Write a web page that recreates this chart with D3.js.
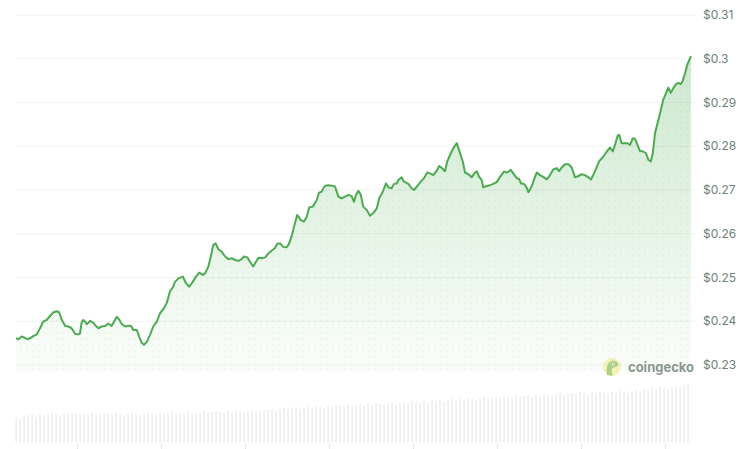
<!DOCTYPE html>
<html>
<head>
<meta charset="utf-8">
<script src="https://cdn.jsdelivr.net/npm/d3@7"></script>
<style>
  body { margin: 0; background: #fff; }
  svg { display: block; font-family: Inter, "Noto Sans", sans-serif; }
</style>
</head>
<body>
<div id="chart"></div>
<script>
// price series, hours since start
var hours = [0,0.6,1.4,2.0,2.8,3.5,4.3,5.2,6.0,6.8,7.7,8.5,9.3,10.2,10.8,11.4,12.3,13.1,13.9,14.8,15.6,16.0,16.4,16.8,17.3,17.7,18.5,19.3,20.0,20.6,21.4,22.3,23.1,23.9,24.5,25.2,25.8,26.4,27.3,28.1,28.8,29.3,30.2,30.8,31.4,32.0,32.7,33.5,34.3,35.2,36.0,37.0,37.7,38.5,39.3,
  39.75,40.6,41.7,42.5,43.3,44.2,45.0,45.8,46.7,47.3,48.1,48.7,49.3,49.9,50.6,51.4,52.3,53.1,53.9,54.8,55.6,56.4,57.0,57.8,58.5,59.3,60.0,60.6,61.4,62.3,63.1,63.9,64.8,65.3,66.0,66.8,67.7,68.3,69.0,69.5,70.3,71.2,72.0,72.7,73.3,74.2,75.2,75.75,76.4,77.25,78.1,78.9,79.75,80.6,
  81.4,82.25,83.1,83.9,84.5,85.0,85.6,86.2,86.8,87.7,88.5,89.3,90.2,90.8,91.7,92.5,93.1,93.9,94.5,95.2,95.6,96.4,97.0,98.1,98.9,99.5,100.3,101.2,102.0,102.8,103.5,104.3,105.2,105.8,106.4,107.25,107.8,108.7,109.3,110.2,110.8,111.7,112.25,113.1,113.9,114.5,115.2,115.8,116.4,116.8,117.7,118.5,
  119.3,120.2,121.0,122.0,122.8,123.7,124.3,125.2,125.8,126.25,127.0,127.7,128.1,128.9,129.75,130.2,131.0,131.8,132.7,133.5,134.3,135.2,135.75,136.4,137.25,138.1,138.9,139.75,140.6,141.4,142.25,143.1,143.75,144.5,145.2,145.8,146.8,147.7,148.5,149.2,149.75,150.4,150.8,151.4,152.25,152.9,153.5,154.2,154.75,155.3,156.0,156.8,157.5,158.1,158.7,159.2,
  159.75,160.6,161.0,161.8,162.5,163.1,163.7,164.3,165.0,165.6,166.2,166.7,167.25,167.8,168.3,168.75];
var prices = [0.2361,0.2359,0.2365,0.2363,0.2359,0.2361,0.2366,0.2370,0.2384,0.2399,0.2403,0.2412,0.2420,0.2423,0.2420,0.2404,0.2389,0.2388,0.2384,0.2371,0.2370,0.2372,0.2397,0.2403,0.2399,0.2393,0.2401,0.2397,0.2389,0.2384,0.2388,0.2389,0.2395,0.2389,0.2399,0.2410,0.2404,0.2394,0.2388,0.2390,0.2389,0.2380,0.2380,0.2365,0.2351,0.2346,0.2353,0.2369,0.2388,0.2399,0.2418,0.2430,0.2442,0.2468,0.2479,
  0.2490,0.2498,0.2502,0.2487,0.2479,0.2490,0.2502,0.2511,0.2506,0.2510,0.2525,0.2548,0.2574,0.2578,0.2564,0.2559,0.2548,0.2542,0.2544,0.2540,0.2538,0.2542,0.2548,0.2546,0.2536,0.2525,0.2536,0.2545,0.2544,0.2546,0.2555,0.2561,0.2568,0.2577,0.2578,0.2570,0.2569,0.2578,0.2597,0.2616,0.2643,0.2631,0.2628,0.2639,0.2660,0.2662,0.2677,0.2694,0.2696,0.2710,0.2711,0.2710,0.2708,0.2685,
  0.2681,0.2685,0.2689,0.2686,0.2673,0.2689,0.2698,0.2689,0.2662,0.2654,0.2641,0.2647,0.2658,0.2681,0.2696,0.2715,0.2706,0.2704,0.2714,0.2715,0.2723,0.2729,0.2719,0.2714,0.2704,0.2700,0.2709,0.2719,0.2727,0.2740,0.2738,0.2734,0.2744,0.2755,0.2751,0.2743,0.2765,0.2784,0.2795,0.2807,0.2790,0.2765,0.2740,0.2736,0.2729,0.2737,0.2743,0.2730,0.2723,0.2706,0.2709,0.2711,
  0.2714,0.2718,0.2730,0.2742,0.2740,0.2746,0.2738,0.2727,0.2725,0.2715,0.2714,0.2705,0.2695,0.2708,0.2730,0.2740,0.2734,0.2730,0.2724,0.2734,0.2747,0.2750,0.2743,0.2751,0.2759,0.2759,0.2752,0.2729,0.2732,0.2736,0.2734,0.2729,0.2724,0.2738,0.2753,0.2766,0.2776,0.2788,0.2797,0.2788,0.2803,0.2824,0.2826,0.2807,0.2807,0.2807,0.2803,0.2818,0.2817,0.2805,0.2789,0.2788,0.2784,0.2769,0.2765,0.2784,
  0.2830,0.2860,0.2875,0.2906,0.2921,0.2934,0.2922,0.2932,0.2942,0.2945,0.2942,0.2950,0.2967,0.2986,0.2997,0.3006];

// hourly volume (M)
var volumes = [24,23,26,27,28,25,28,27,28,29,28,26,28,28,29,28,27,28,28,29,27,
  28,29,28,27,29,28,26,28,29,28,27,28,29,28,27,29,28,29,30,28,29,
  29,30,28,29,30,31,29,30,31,30,29,31,30,32,31,30,31,32,30,31,32,
  32,33,31,33,34,33,34,35,33,34,35,34,36,35,34,36,35,37,36,35,37,
  36,37,38,36,38,37,39,38,37,39,40,38,39,40,39,41,40,39,41,40,42,
  41,42,40,42,43,41,43,42,44,43,42,44,45,43,44,45,44,46,45,44,46,
  45,46,47,45,47,46,48,47,46,48,49,47,48,49,48,50,49,48,50,49,50,
  49,48,50,49,51,50,49,51,52,50,53,52,54,53,55,54,53,55,56,55,57,58];

var priceTicks = [0.23,0.24,0.25,0.26,0.27,0.28,0.29,0.30,0.31];
var timeTicks = [15.4,36.4,57.4,78.4,99.4,120.4,141.4,162.4];

var width = 750, height = 449;
var svg = d3.select("#chart").append("svg")
    .attr("width", width).attr("height", height);

var x = d3.scaleLinear().domain([0, 169]).range([16, 692]);
var y = d3.scaleLinear().domain([0.23, 0.31]).range([365, 15]);
var yVol = d3.scaleLinear().domain([0, 60]).range([442, 382]);

var defs = svg.append("defs");
var grad = defs.append("linearGradient")
    .attr("id", "fillGrad").attr("gradientUnits", "userSpaceOnUse")
    .attr("x1", 0).attr("x2", 0).attr("y1", 56).attr("y2", 372);
grad.append("stop").attr("offset", 0).attr("stop-color", "#4caf50").attr("stop-opacity", 0.28);
grad.append("stop").attr("offset", 1).attr("stop-color", "#4caf50").attr("stop-opacity", 0.02);

var pat = defs.append("pattern").attr("id", "dots")
    .attr("patternUnits", "userSpaceOnUse").attr("width", 6).attr("height", 6);
pat.append("circle").attr("cx", 3).attr("cy", 3).attr("r", 0.9)
    .attr("fill", "#4caf50").attr("fill-opacity", 0.08);

// grid + labels
svg.append("g").selectAll("line").data(priceTicks).enter().append("line")
    .attr("x1", 16).attr("x2", 695)
    .attr("y1", function(d){ return y(d); }).attr("y2", function(d){ return y(d); })
    .attr("stroke", "#f1f2f2").attr("stroke-width", 1);

svg.append("g").selectAll("text").data(priceTicks).enter().append("text")
    .attr("x", 703).attr("y", function(d){ return y(d); })
    .attr("dy", "0.35em")
    .attr("font-size", 12).attr("fill", "#6f7f76")
    .text(function(d){ return "$" + (+d.toFixed(2)); });

// volume bars
svg.append("g").selectAll("rect").data(volumes).enter().append("rect")
    .attr("x", function(d, i){ return x(i) - 0.6; })
    .attr("width", 1.3)
    .attr("y", function(d){ return yVol(d); })
    .attr("height", function(d){ return yVol(0) - yVol(d); })
    .attr("fill", "#e9ecea");

svg.append("g").selectAll("line").data(timeTicks).enter().append("line")
    .attr("x1", function(d){ return x(d); }).attr("x2", function(d){ return x(d); })
    .attr("y1", 443).attr("y2", 449)
    .attr("stroke", "#e4e6e5");

var pts = hours.map(function(h, i){ return [h, prices[i]]; });

var area = d3.area()
    .x(function(d){ return x(d[0]); })
    .y0(372)
    .y1(function(d){ return y(d[1]); });
svg.append("path").datum(pts).attr("d", area).attr("fill", "url(#fillGrad)");
svg.append("path").datum(pts).attr("d", area).attr("fill", "url(#dots)");

var line = d3.line()
    .x(function(d){ return x(d[0]); })
    .y(function(d){ return y(d[1]); });
svg.append("path").datum(pts).attr("d", line)
    .attr("fill", "none").attr("stroke", "#4eaa52")
    .attr("stroke-width", 2).attr("stroke-linejoin", "round");

// watermark
var wm = svg.append("g").attr("transform", "translate(612,367)").attr("opacity", 0.7);
wm.append("circle").attr("r", 9).attr("fill", "#f4eda0");
wm.append("path")
    .attr("d", "M-5,8 C-6,2 -5,-5 0,-6 C4,-7 7,-4 6,-1 C4,0 1,0 0,2 C-1,4 0,7 1,9 Z")
    .attr("fill", "#8bbf5a");
wm.append("circle").attr("cx", 1.5).attr("cy", -3).attr("r", 1.6).attr("fill", "#fff");
wm.append("circle").attr("cx", 1.8).attr("cy", -3).attr("r", 0.8).attr("fill", "#55604f");
svg.append("text").attr("x", 628).attr("y", 367).attr("dy", "0.35em")
    .attr("font-size", 13).attr("font-weight", 700).attr("fill", "#8b9791")
    .text("coingecko");
</script>
</body>
</html>
